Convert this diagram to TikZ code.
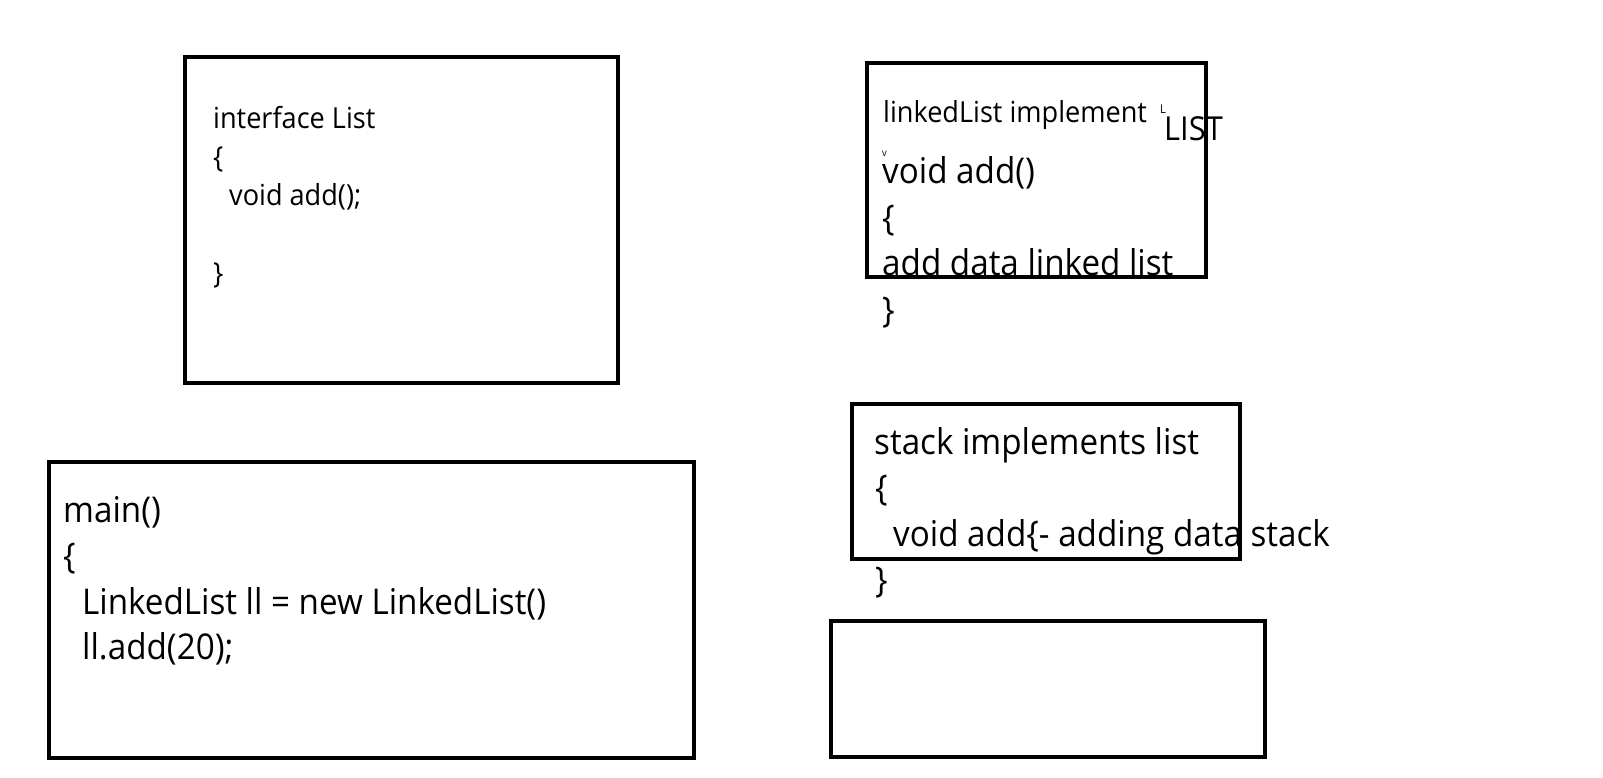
\documentclass[tikz,border=0pt]{standalone}
\usepackage{fontspec}
\setmainfont{Open Sans}[FakeStretch=0.935]
\begin{document}
\begin{tikzpicture}[x=1pt,y=-1pt,
  boxline/.style={draw=black,line width=4.5pt},
  big/.style={anchor=base west,inner sep=0pt,font=\fontsize{35.5}{42}\selectfont},
  mid/.style={anchor=base west,inner sep=0pt,font=\fontsize{29}{34}\selectfont},
  tiny/.style={anchor=base west,inner sep=0pt,font=\fontsize{10}{11}\selectfont}]
\useasboundingbox[fill=white] (0,0) rectangle (1603,778);
% boxes
\draw[boxline] (185,57) rectangle (618,383);
\draw[boxline] (867,63) rectangle (1206,277);
\draw[boxline] (852,404) rectangle (1240,559);
\draw[boxline] (831,621) rectangle (1265,757);
\draw[boxline] (49,462) rectangle (694,758);
% interface box
\node[mid] (i1) at (213,129) {interface List};
\node[mid] (i2) at (213,168) {\{};
\node[mid] (i3) at (229,205) {void add();};
\node[mid] (i4) at (213,283) {\}};
% linkedList box
\node[mid] (l0) at (883,123) {linkedList implement};
\node[anchor=base west,inner sep=0pt,font=\fontsize{12}{13}\selectfont] (lmark) at (1160,114) {L};
\node[anchor=base west,inner sep=0pt,font=\fontsize{33}{38}\selectfont] (lst) at (1164,141) {LIST};
\node[tiny] (vmark) at (882,157) {v};
\node[big] (l1) at (882,184) {void add()};
\node[big] (l2) at (882,230) {\{};
\node[big] (l3) at (882,275) {add data linked list};
\node[big] (l4) at (882,322) {\}};
% stack box
\node[big] (s1) at (874,454) {stack implements list};
\node[big] (s2) at (875,500) {\{};
\node[big] (s3) at (893,546) {void add\{- adding data stack};
\node[big] (s4) at (875,592) {\}};
% main box
\node[big] (m1) at (63,522) {main()};
\node[big] (m2) at (63,568) {\{};
\node[big] (m3) at (82,614) {LinkedList ll = new LinkedList()};
\node[big] (m4) at (82,659) {ll.add(20);};
\end{tikzpicture}
\end{document}
